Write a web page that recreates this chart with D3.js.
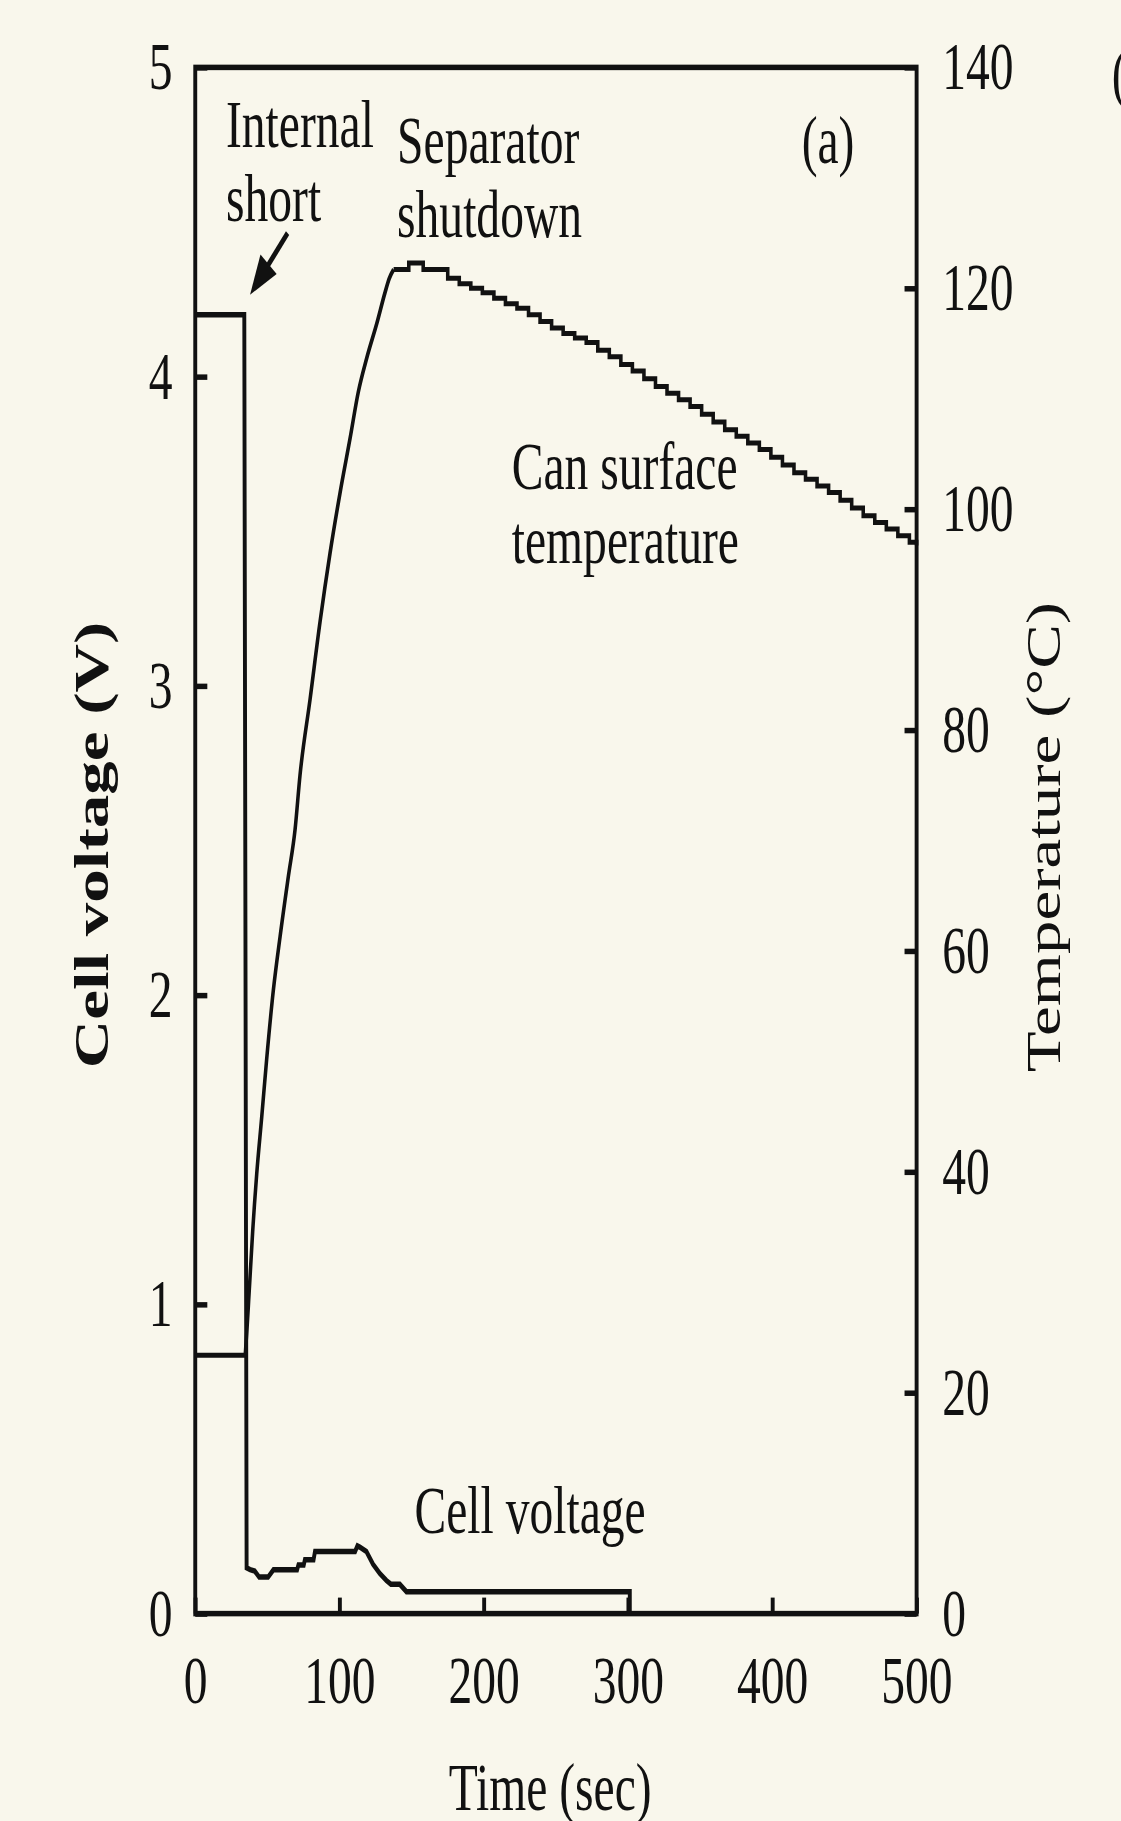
<!DOCTYPE html>
<html>
<head>
<meta charset="utf-8">
<script src="https://cdn.jsdelivr.net/npm/d3@7"></script>
<style>
  html, body { margin: 0; padding: 0; background: #f9f7ec; }
  svg { display: block; }
  text { font-family: 'Liberation Serif', 'Times New Roman', serif; fill: #111; }
</style>
</head>
<body>
<div id="chart"></div>
<script>
/* ---------- data ---------- */
const xTicks = [0, 100, 200, 300, 400, 500];
const voltTicks = [0, 1, 2, 3, 4, 5];
const tempTicks = [0, 20, 40, 60, 80, 100, 120, 140];

// cell voltage (V) vs time (sec)
const voltTime = [0, 34, 35.6, 38, 41.2, 44.3, 50.5, 54.2, 70.6, 71.5, 75.2, 76, 82, 83, 110.8, 112.4, 114,
  118.6, 123.2, 127.9, 132.5, 135.6, 141.8, 146.4, 301.2, 301.2];
const voltValue = [4.2, 4.2, 0.148, 0.142, 0.138, 0.118, 0.118, 0.142, 0.142, 0.157, 0.157, 0.174, 0.174, 0.201,
  0.201, 0.219, 0.215, 0.201, 0.16, 0.13, 0.107, 0.095, 0.095, 0.071, 0.071, 0];

// can surface temperature (C), heating part
const tempRiseTime = [0, 34.5, 35.2, 37.5, 39.8, 42.6, 46.1, 49.5, 54.1, 58.8, 64.6, 69.2, 72.6, 79.6, 86.5,
  93.4, 100.4, 107.3, 113, 118.9, 125.8, 131.5, 134.5, 137.5];
const tempRiseValue = [23.4, 23.4, 24.5, 29.4, 34.6, 39.8, 45.0, 50.2, 56.4, 61.3, 66.8, 71.0, 75.9, 82.8, 89.8,
  96.0, 101.5, 106.4, 110.6, 113.7, 116.8, 119.6, 120.9, 121.7];

// cooling part (logger steps)
const tempFallTime = [137.5, 148, 158, 175, 183, 191, 199, 207, 215, 223, 231, 239, 247, 255, 263, 271, 279,
  287, 295, 303, 311, 319, 327, 335, 343, 351, 359, 367, 375, 383, 391, 399, 407, 415, 423, 431, 439, 447,
  455, 463, 471, 479, 487, 495, 500];
const tempFallValue = [121.7, 122.3, 121.7, 120.9, 120.4, 120.0, 119.6, 119.1, 118.6, 118.2, 117.6, 117.0,
  116.4, 115.9, 115.5, 115.1, 114.4, 113.8, 113.1, 112.5, 111.8, 111.1, 110.5, 109.9, 109.3, 108.6, 107.9,
  107.2, 106.6, 106.0, 105.4, 104.7, 104.0, 103.3, 102.7, 102.1, 101.5, 100.8, 100.1, 99.4, 98.8, 98.2,
  97.6, 97.0, 96.7];

/* ---------- layout ---------- */
const W = 1121;
const H = 1821;
const SX = 0.71; // the original figure is squeezed horizontally
const plotL = 275, plotR = 1291, plotT = 67.4, plotB = 1613.6;
const INK = '#111';
const FS = 67;

const zip = (a, b) => a.map((d, i) => [d, b[i]]);

const svg = d3.select('#chart').append('svg').attr('width', W).attr('height', H);
svg.append('rect').attr('width', W).attr('height', H).attr('fill', '#f9f7ec');

const g = svg.append('g').attr('transform', `scale(${SX},1)`);

const x = d3.scaleLinear().domain([0, 500]).range([plotL, plotR]);
const yV = d3.scaleLinear().domain([0, 5]).range([plotB, plotT]);
const yT = d3.scaleLinear().domain([0, 140]).range([plotB, plotT]);

function styleAxis(a) {
  a.select('.domain').remove();
  a.selectAll('line').attr('stroke', INK).attr('stroke-width', 5.5);
  a.selectAll('text').attr('font-size', FS).attr('fill', INK);
}

/* ---------- axes ---------- */
g.append('g')
  .attr('transform', `translate(0,${plotB})`)
  .call(d3.axisBottom(x).tickValues(xTicks).tickFormat(d3.format('d'))
    .tickSizeInner(-16).tickSizeOuter(0).tickPadding(42))
  .call(styleAxis);

g.append('g')
  .attr('transform', `translate(${plotL},0)`)
  .call(d3.axisLeft(yV).tickValues(voltTicks).tickFormat(d3.format('d'))
    .tickSizeInner(-17).tickSizeOuter(0).tickPadding(32))
  .call(styleAxis);

g.append('g')
  .attr('transform', `translate(${plotR},0)`)
  .call(d3.axisRight(yT).tickValues(tempTicks).tickFormat(d3.format('d'))
    .tickSizeInner(-17).tickSizeOuter(0).tickPadding(36))
  .call(styleAxis);

/* ---------- curves ---------- */
const lineV = d3.line().x(d => x(d[0])).y(d => yV(d[1]));
const lineT = d3.line().x(d => x(d[0])).y(d => yT(d[1]));

g.append('path')
  .datum(zip(voltTime, voltValue))
  .attr('fill', 'none')
  .attr('stroke', INK)
  .attr('stroke-width', 5.5)
  .attr('d', lineV);

g.append('path')
  .datum(zip(tempRiseTime, tempRiseValue))
  .attr('fill', 'none')
  .attr('stroke', INK)
  .attr('stroke-width', 5)
  .attr('d', lineT.curve(d3.curveMonotoneX));

g.append('path')
  .datum(zip(tempFallTime, tempFallValue))
  .attr('fill', 'none')
  .attr('stroke', INK)
  .attr('stroke-width', 5)
  .attr('d', lineT.curve(d3.curveStepAfter));

// frame
g.append('rect')
  .attr('x', plotL)
  .attr('y', plotT)
  .attr('width', plotR - plotL)
  .attr('height', plotB - plotT)
  .attr('fill', 'none')
  .attr('stroke', INK)
  .attr('stroke-width', 5.5);

/* ---------- titles ---------- */
g.append('text')
  .attr('x', x(246))
  .attr('y', 1810)
  .attr('text-anchor', 'middle')
  .attr('font-size', FS)
  .text('Time (sec)');

g.append('text')
  .attr('transform', `translate(152,845) rotate(-90)`)
  .attr('text-anchor', 'middle')
  .attr('font-size', FS)
  .attr('font-weight', 'bold')
  .text('Cell voltage (V)');

g.append('text')
  .attr('transform', `translate(1493,837) rotate(-90)`)
  .attr('text-anchor', 'middle')
  .attr('font-size', FS)
  .text('Temperature (°C)');

/* ---------- annotations ---------- */
function note(txt, px, py, anchor) {
  g.append('text')
    .attr('x', px)
    .attr('y', py)
    .attr('text-anchor', anchor || 'start')
    .attr('font-size', FS)
    .text(txt);
}

note('Internal', x(21.3), yV(4.744));
note('short', x(21.3), yV(4.502));
note('Separator', x(139.9), yV(4.691));
note('shutdown', x(139.9), yV(4.453));
note('(a)', x(438.6), yV(4.691), 'middle');
note('Can surface', x(219.4), yT(101.8));
note('temperature', x(219.4), yT(95.1));
note('Cell voltage', x(152), yV(0.261));
// edge of the neighbouring panel label, cut by the image border
note('(', 1566, 96);

// arrow to the internal short
const tail = [x(64), yV(4.464)];
const tip = [x(38), yV(4.265)];
const dx = tip[0] - tail[0], dy = tip[1] - tail[1];
const len = Math.hypot(dx, dy);
const ux = dx / len, uy = dy / len;
const headL = 40, headW = 15;
const base = [tip[0] - ux * headL, tip[1] - uy * headL];

g.append('line')
  .attr('x1', tail[0]).attr('y1', tail[1])
  .attr('x2', base[0] + ux * 4).attr('y2', base[1] + uy * 4)
  .attr('stroke', INK)
  .attr('stroke-width', 6);

g.append('path')
  .attr('d', `M${tip[0]},${tip[1]}L${base[0] - uy * headW},${base[1] + ux * headW}` +
    `L${base[0] + uy * headW},${base[1] - ux * headW}Z`)
  .attr('fill', INK);
</script>
</body>
</html>
